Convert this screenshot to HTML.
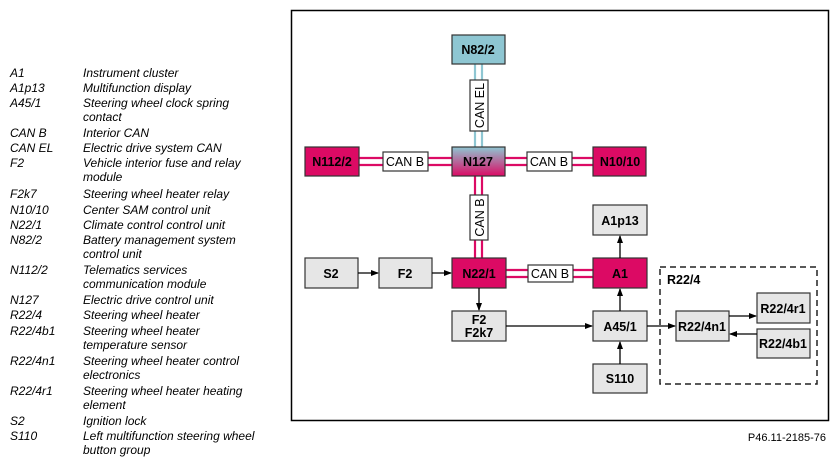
<!DOCTYPE html>
<html><head><style>
body{margin:0;background:#fff;width:837px;height:466px;overflow:hidden}
svg{display:block}
.lg{font-family:"Liberation Sans",sans-serif;font-style:italic;font-size:12px;fill:#000}
.b{font-family:"Liberation Sans",sans-serif;font-weight:bold;font-size:12.5px;text-anchor:middle;fill:#000}
.c{font-family:"Liberation Sans",sans-serif;font-size:12.5px;text-anchor:middle;fill:#000}
</style></head><body>
<svg width="837" height="466" viewBox="0 0 837 466" xmlns="http://www.w3.org/2000/svg">
<defs>
<linearGradient id="g" x1="0" y1="0" x2="0" y2="1"><stop offset="0" stop-color="#8ec6d2"/><stop offset="1" stop-color="#dc0a64"/></linearGradient>
<marker id="a" markerWidth="8" markerHeight="8" refX="7" refY="4" orient="auto" markerUnits="userSpaceOnUse"><path d="M0,1 L8,4 L0,7 z" fill="#000"/></marker>
</defs>
<g class="lg">
<text x="10" y="77">A1</text><text x="83" y="77">Instrument cluster</text>
<text x="10" y="92">A1p13</text><text x="83" y="92">Multifunction display</text>
<text x="10" y="107">A45/1</text><text x="83" y="107">Steering wheel clock spring</text><text x="83" y="121">contact</text>
<text x="10" y="137">CAN B</text><text x="83" y="137">Interior CAN</text>
<text x="10" y="152">CAN EL</text><text x="83" y="152">Electric drive system CAN</text>
<text x="10" y="167">F2</text><text x="83" y="167">Vehicle interior fuse and relay</text><text x="83" y="181">module</text>
<text x="10" y="198">F2k7</text><text x="83" y="198">Steering wheel heater relay</text>
<text x="10" y="214">N10/10</text><text x="83" y="214">Center SAM control unit</text>
<text x="10" y="229">N22/1</text><text x="83" y="229">Climate control control unit</text>
<text x="10" y="244">N82/2</text><text x="83" y="244">Battery management system</text><text x="83" y="258">control unit</text>
<text x="10" y="274">N112/2</text><text x="83" y="274">Telematics services</text><text x="83" y="288">communication module</text>
<text x="10" y="304">N127</text><text x="83" y="304">Electric drive control unit</text>
<text x="10" y="319">R22/4</text><text x="83" y="319">Steering wheel heater</text>
<text x="10" y="335">R22/4b1</text><text x="83" y="335">Steering wheel heater</text><text x="83" y="349">temperature sensor</text>
<text x="10" y="365">R22/4n1</text><text x="83" y="365">Steering wheel heater control</text><text x="83" y="379">electronics</text>
<text x="10" y="395">R22/4r1</text><text x="83" y="395">Steering wheel heater heating</text><text x="83" y="409">element</text>
<text x="10" y="425">S2</text><text x="83" y="425">Ignition lock</text>
<text x="10" y="440">S110</text><text x="83" y="440">Left multifunction steering wheel</text><text x="83" y="454">button group</text>
</g>
<rect x="291.5" y="10.5" width="537" height="410" fill="none" stroke="#000" stroke-width="1.5"/>
<text x="826" y="441" font-family="Liberation Sans,sans-serif" font-size="11" text-anchor="end">P46.11-2185-76</text>
<g stroke-width="2.2" fill="none">
<line x1="475" y1="64" x2="475" y2="147" stroke="#8ec6d2"/><line x1="482" y1="64" x2="482" y2="147" stroke="#8ec6d2"/>
<line x1="475" y1="176" x2="475" y2="258" stroke="#dc0a64"/><line x1="482" y1="176" x2="482" y2="258" stroke="#dc0a64"/>
<line x1="359" y1="158" x2="593" y2="158" stroke="#dc0a64"/><line x1="359" y1="165" x2="593" y2="165" stroke="#dc0a64"/>
<line x1="506" y1="270" x2="593" y2="270" stroke="#dc0a64"/><line x1="506" y1="277" x2="593" y2="277" stroke="#dc0a64"/>
</g>
<g stroke="#333" stroke-width="1.2">
<rect x="452" y="35" width="53" height="29" fill="#8ec6d2"/>
<rect x="452" y="147" width="53" height="29" fill="url(#g)"/>
<rect x="305" y="147" width="54" height="29" fill="#dc0a64"/>
<rect x="593" y="147" width="53" height="29" fill="#dc0a64"/>
<rect x="452" y="258" width="54" height="30" fill="#dc0a64"/>
<rect x="593" y="258" width="54" height="30" fill="#dc0a64"/>
<rect x="305" y="258" width="53" height="30" fill="#e6e6e6"/>
<rect x="379" y="258" width="53" height="30" fill="#e6e6e6"/>
<rect x="593" y="205" width="54" height="30" fill="#e6e6e6"/>
<rect x="452" y="311" width="54" height="30" fill="#e6e6e6"/>
<rect x="593" y="311" width="54" height="30" fill="#e6e6e6"/>
<rect x="593" y="364" width="54" height="29" fill="#e6e6e6"/>
<rect x="676" y="311" width="53" height="30" fill="#e6e6e6"/>
<rect x="757" y="293" width="53" height="30" fill="#e6e6e6"/>
<rect x="757" y="329" width="53" height="29" fill="#e6e6e6"/>
<rect x="470" y="80" width="18" height="51" fill="#fff"/>
<rect x="470" y="195" width="18" height="45" fill="#fff"/>
<rect x="383" y="152" width="45" height="19" fill="#fff"/>
<rect x="527" y="152" width="45" height="19" fill="#fff"/>
<rect x="528" y="265" width="45" height="17" fill="#fff"/>
</g>
<rect x="660" y="267" width="157" height="117" fill="none" stroke="#222" stroke-width="1.5" stroke-dasharray="6,4"/>
<g stroke="#000" stroke-width="1.3" marker-end="url(#a)">
<line x1="358" y1="273" x2="378" y2="273"/>
<line x1="432" y1="273" x2="451" y2="273"/>
<line x1="479" y1="288" x2="479" y2="310"/>
<line x1="506" y1="326" x2="592" y2="326"/>
<line x1="620" y1="311" x2="620" y2="289"/>
<line x1="620" y1="258" x2="620" y2="236"/>
<line x1="620" y1="364" x2="620" y2="342"/>
<line x1="647" y1="326" x2="675" y2="326"/>
<line x1="729" y1="316" x2="756" y2="316"/>
<line x1="757" y1="334" x2="730" y2="334"/>
</g>
<g class="b">
<text x="478" y="54">N82/2</text>
<text x="478" y="166">N127</text>
<text x="332" y="166">N112/2</text>
<text x="620" y="166">N10/10</text>
<text x="479" y="278">N22/1</text>
<text x="620" y="278">A1</text>
<text x="331" y="278">S2</text>
<text x="405" y="278">F2</text>
<text x="620" y="225">A1p13</text>
<text x="479" y="324">F2</text><text x="479" y="337">F2k7</text>
<text x="620" y="331">A45/1</text>
<text x="620" y="383">S110</text>
<text x="702" y="331">R22/4n1</text>
<text x="783" y="313">R22/4r1</text>
<text x="783" y="348">R22/4b1</text>
<text x="667" y="284" text-anchor="start">R22/4</text>
</g>
<g class="c">
<text x="405" y="166">CAN B</text>
<text x="549" y="166">CAN B</text>
<text x="550" y="278">CAN B</text>
<text transform="translate(484,105.5) rotate(-90)">CAN EL</text>
<text transform="translate(484,217.5) rotate(-90)">CAN B</text>
</g>
</svg>
</body></html>
